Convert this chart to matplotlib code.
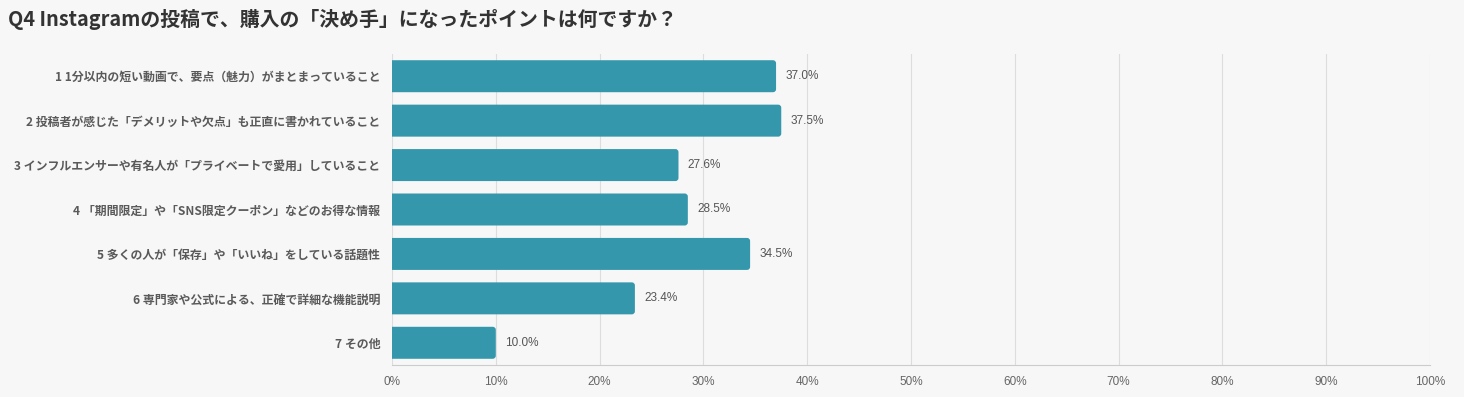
import matplotlib.pyplot as plt
from matplotlib.patches import FancyBboxPatch
from matplotlib.ticker import FuncFormatter

# Q4 Instagram purchase deciding points
labels = [
    '1 1分以内の短い動画で、要点（魅力）がまとまっていること',
    '2 投稿者が感じた「デメリットや欠点」も正直に書かれていること',
    '3 インフルエンサーや有名人が「プライベートで愛用」していること',
    '4 「期間限定」や「SNS限定クーポン」などのお得な情報',
    '5 多くの人が「保存」や「いいね」をしている話題性',
    '6 専門家や公式による、正確で詳細な機能説明',
    '7 その他',
]
values = [37.0, 37.5, 27.6, 28.5, 34.5, 23.4, 10.0]
ticks = list(range(0, 101, 10))

title = 'Q4 Instagramの投稿で、購入の「決め手」になったポイントは何ですか？'

bg = '#f7f7f7'
bar_color = '#3497ab'

plt.rcParams['font.family'] = ['Noto Sans CJK JP', 'DejaVu Sans']

fig = plt.figure(figsize=(14.64, 3.97), dpi=100, facecolor=bg)
ax = fig.add_axes([392 / 1464, 32 / 397, 1038 / 1464, 311 / 397])
ax.set_facecolor(bg)

y = list(range(len(labels)))
bars = ax.barh(y, values, height=0.72, color=bar_color, zorder=3)

# swap plain bars for ones with rounded right end
for b in bars:
    x0, y0 = b.get_x(), b.get_y()
    w, h = b.get_width(), b.get_height()
    b.set_visible(False)
    p = FancyBboxPatch((x0 - 1, y0), w + 1, h,
                       boxstyle='round,pad=0,rounding_size=0.3',
                       mutation_aspect=0.23, fc=bar_color, ec='none', zorder=3)
    ax.add_patch(p)
    p.set_clip_path(ax.patch)

for yi, v in zip(y, values):
    ax.text(v + 0.9, yi, f'{v:.1f}%', va='center', ha='left', fontsize=8.5,
            color='#555555', family=['Liberation Sans', 'DejaVu Sans'])

ax.set_xlim(0, 100)
ax.set_ylim(len(labels) - 0.5, -0.5)
ax.set_xticks(ticks)
ax.xaxis.set_major_formatter(FuncFormatter(lambda x, p: f'{int(x)}%'))
ax.set_yticks(y)
ax.set_yticklabels(labels, fontsize=8.6, fontweight='bold', color='#5a5a5a')
for t in ax.get_xticklabels():
    t.set_family(['Liberation Sans', 'DejaVu Sans'])
    t.set_fontsize(8.5)
    t.set_color('#666666')

ax.tick_params(axis='both', length=0)
ax.tick_params(axis='y', pad=8.5)
ax.tick_params(axis='x', pad=8)
ax.grid(axis='x', color='#dddddd', linewidth=0.8, zorder=0)

for s in ['top', 'right', 'left']:
    ax.spines[s].set_visible(False)
ax.spines['bottom'].set_color('#cccccc')

fig.text(8 / 1464, 1 - 20 / 397, title, fontsize=14.3, fontweight='bold',
         color='#333333', va='center', ha='left')

fig.savefig('out.png', dpi=100, facecolor=bg)
